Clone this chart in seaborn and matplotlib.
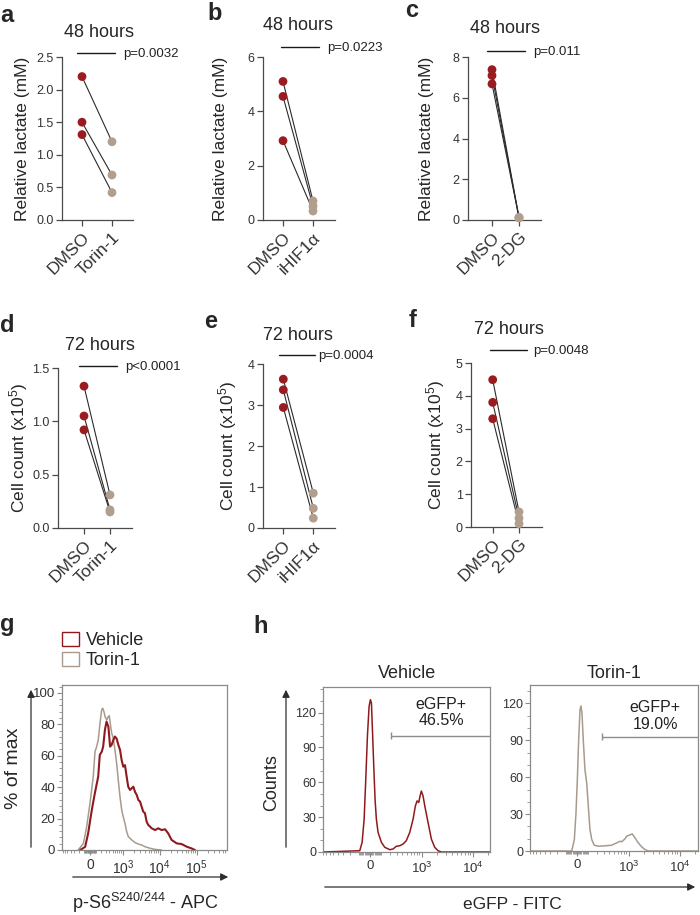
import numpy as np
import pandas as pd
import matplotlib
matplotlib.use("Agg")
import matplotlib.pyplot as plt
import seaborn as sns
from matplotlib.lines import Line2D
from matplotlib.patches import Patch, FancyArrowPatch
from matplotlib.ticker import FixedLocator, MultipleLocator, FormatStrFormatter

# ---- paired replicates, DMSO vs treatment ----
treatments = ["Torin-1", "iHIF1α", "2-DG"]

lactate_dmso_torin = [2.20, 1.50, 1.31]
lactate_torin = [1.20, 0.69, 0.42]
lactate_dmso_hif = [5.10, 4.55, 2.92]
lactate_hif = [0.70, 0.51, 0.33]
lactate_dmso_2dg = [7.38, 7.09, 6.68]
lactate_2dg = [0.12, 0.10, 0.13]

count_dmso_torin = [1.33, 1.05, 0.92]
count_torin = [0.31, 0.17, 0.15]
count_dmso_hif = [3.63, 3.37, 2.94]
count_hif = [0.85, 0.48, 0.24]
count_dmso_2dg = [4.49, 3.80, 3.30]
count_2dg = [0.46, 0.27, 0.10]

pvals_lactate = ["p=0.0032", "p=0.0223", "p=0.011"]
pvals_count = ["p<0.0001", "p=0.0004", "p=0.0048"]

# ---- flow histograms (fluorescence, % of max / counts) ----
g_vehicle_x = [-170, -80, -30, 30, 80, 140, 170, 210, 240, 280, 320, 370, 420, 470,
               530, 590, 660, 740, 830, 920, 1020, 1140, 1270, 1400, 1570, 1750, 1930,
               2150, 2400, 2650, 2950, 3250, 3600, 4000, 4450, 4900, 6100, 7500, 9200,
               11300, 14000, 17000, 21000, 29000, 39000, 54000, 73000, 90000]
g_vehicle_y = [0, 2, 10.6, 25.5, 36, 46.7, 60.5, 62.6, 65.8, 76.4, 81.7, 78.5, 65.8, 66.9,
               70, 72.2, 71, 67, 63.7, 57.3, 53, 54, 46.7, 40.3, 38.2, 39.3, 40.3,
               37, 35, 31.8, 30.8, 27.6, 24.4, 23.4, 18, 16, 13.8, 12.7, 13.8,
               12.7, 13.2, 10.6, 6.4, 4.2, 3.8, 2.1, 1, 0]
g_torin_x = [-210, -110, -54, 0, 54, 83, 112, 141, 174, 208, 230, 258, 282, 324, 368, 396,
             440, 472, 528, 592, 663, 739, 827, 925, 1020, 1140, 1270, 1410, 1750, 2150,
             2640, 3260, 4010, 5480, 7470, 11300]
g_torin_y = [0, 4.2, 14.9, 29.7, 46.7, 62.6, 65.8, 70, 80.7, 89.2, 90.2, 88, 84.9, 82.8, 84.9,
             85.4, 78.5, 74.3, 71.1, 63.7, 55.2, 44.6, 34, 25.5, 21.2, 17, 11.7, 8.5, 6.4,
             4.7, 3.8, 3.2, 2.1, 1.1, 0.4, 0]

h_vehicle_x = [-815, -96, -73, -54, -39, -24, -9, 3, 12, 21, 33, 45, 57, 73, 106, 142, 201,
               245, 294, 353, 417, 488, 576, 674, 750, 812, 876, 930, 988, 1068, 1154, 1340,
               1558, 1814, 2104, 2440, 21700]
h_vehicle_y = [0, 1.1, 8.3, 28.3, 62.6, 99.7, 125.4, 131.1, 128.3, 105.4, 74, 45.4, 28.3,
               16.9, 8.3, 4, 2, 2.6, 4.9, 5.4, 6.9, 9.7, 16.9, 28.3, 39.7, 44, 42.6, 48.2,
               52.5, 48.2, 39.7, 25.4, 11.1, 4, 1.1, 0, 0]
h_torin_x = [-812, -48, -24, -9, 3, 15, 27, 36, 45, 57, 73, 90, 106, 123, 142, 171, 222, 323,
             452, 576, 674, 729, 851, 918, 1068, 1186, 1340, 1558, 1814, 2104, 2440, 22800]
h_torin_y = [0, 0, 9.3, 31, 58, 90.4, 114.8, 118, 112, 90.4, 66, 55.3, 36.3, 17.4, 9.3, 4.7,
             3.9, 4.2, 4.7, 6.6, 7.9, 7.5, 9.9, 12, 13.1, 13.9, 10.7, 6.6, 3.4, 1.2, 0, 0]
gate_labels = ["eGFP+\n46.5%", "eGFP+\n19.0%"]

DMSO_RED = "#9b1c20"
TRT_TAN = "#b29e8d"
VEH_RED = "#8e1a1e"
TOR_GREY = "#a89a8c"
SPINE = "#4a4a4a"
FLOW_SPINE = "#8a8a8a"

sns.set_style("ticks")
plt.rcParams["font.family"] = ["Liberation Sans", "DejaVu Sans"]
plt.rcParams["mathtext.fontset"] = "custom"
plt.rcParams["mathtext.rm"] = "Liberation Sans"
plt.rcParams["mathtext.it"] = "Liberation Sans:italic"
plt.rcParams["mathtext.bf"] = "Liberation Sans:bold"

W, H = 700, 915
fig = plt.figure(figsize=(7, 9.15), dpi=100)
fig.patch.set_facecolor("white")


def box(x0, y0, x1, y1):
    return [x0 / W, 1 - y1 / H, (x1 - x0) / W, (y1 - y0) / H]


def ftext(x, y, s, **kw):
    fig.text(x / W, 1 - y / H, s, **kw)


def fline(x0, x1, y, **kw):
    fig.add_artist(Line2D([x0 / W, x1 / W], [1 - y / H, 1 - y / H],
                          transform=fig.transFigure, **kw))


def farrow(p0, p1):
    fig.add_artist(FancyArrowPatch((p0[0] / W, 1 - p0[1] / H), (p1[0] / W, 1 - p1[1] / H),
                                   transform=fig.transFigure, arrowstyle="-|>",
                                   mutation_scale=11, color="#2e2e2e", lw=0.9))


def paired_panel(rect, dmso_px, trt_px, dmso, trt, trt_name, ymax, ystep, fmt):
    x0, y0, x1, y1 = rect
    ax = fig.add_axes(box(x0, y0, x1, y1))
    groups = ["DMSO", trt_name]
    df = pd.DataFrame({
        "group": ["DMSO"] * len(dmso) + [trt_name] * len(trt),
        "value": list(dmso) + list(trt),
        "pair": list(range(len(dmso))) * 2,
    })
    df["pos"] = df["group"].map({g: i for i, g in enumerate(groups)})
    sns.lineplot(data=df, x="pos", y="value", units="pair", estimator=None,
                 color="#2b2b2b", lw=0.8, ax=ax, legend=False)
    sns.scatterplot(data=df, x="pos", y="value", hue="group", hue_order=groups,
                    palette=[DMSO_RED, TRT_TAN], s=40, linewidth=0, ax=ax,
                    legend=False, zorder=3, clip_on=False)
    step = trt_px - dmso_px
    ax.set_xlim((x0 - dmso_px) / step, (x1 - dmso_px) / step)
    ax.set_ylim(0, ymax)
    ax.set_yticks(np.arange(0, ymax + 1e-9, ystep))
    ax.yaxis.set_major_formatter(FormatStrFormatter(fmt))
    ax.set_xticks([0, 1])
    ax.set_xticklabels(groups, rotation=45, ha="right", rotation_mode="anchor",
                       fontsize=12.5)
    ax.set_xlabel("")
    ax.set_ylabel("")
    sns.despine(ax=ax)
    for s in ["left", "bottom"]:
        ax.spines[s].set_color(SPINE)
        ax.spines[s].set_linewidth(0.9)
    ax.tick_params(length=4.5, width=0.9, color=SPINE, labelcolor="#333333")
    ax.tick_params(axis="y", labelsize=9, pad=1.5)
    ax.tick_params(axis="x", pad=2.5)
    return ax


# ---- rows a-c (lactate) and d-f (cell count) ----
paired_panel((62, 57, 133, 220), 82, 112, lactate_dmso_torin, lactate_torin, treatments[0], 2.5, 0.5, "%.1f")
paired_panel((263, 57, 335, 220), 283, 313, lactate_dmso_hif, lactate_hif, treatments[1], 6, 2, "%d")
paired_panel((468, 57, 541, 220), 492, 519, lactate_dmso_2dg, lactate_2dg, treatments[2], 8, 2, "%d")
paired_panel((58, 368, 132, 528), 84, 110, count_dmso_torin, count_torin, treatments[0], 1.5, 0.5, "%.1f")
paired_panel((263, 364, 335, 528), 283.3, 313.3, count_dmso_hif, count_hif, treatments[1], 4, 1, "%d")
paired_panel((471, 363, 542, 527), 492.7, 519, count_dmso_2dg, count_2dg, treatments[2], 5, 1, "%d")

for x, y in [(23, 139), (221, 139), (427, 139)]:
    ftext(x, y, "Relative lactate (mM)", rotation=90, ha="center", va="center", fontsize=12.5)
for x, y in [(19, 448), (228, 446), (436, 445)]:
    ftext(x, y, "Cell count (x10$^{5}$)", rotation=90, ha="center", va="center", fontsize=12.5)

for x, y in [(99, 36.7), (298, 30), (505, 33.3)]:
    ftext(x, y, "48 hours", ha="center", va="baseline", fontsize=13)
for x, y in [(100, 350), (298, 340), (509, 334)]:
    ftext(x, y, "72 hours", ha="center", va="baseline", fontsize=13)

p_lines = [(77, 115, 53.3, 122.7), (281, 319, 46.7, 326.7), (487, 525, 50.7, 533),
           (79, 117, 365.7, 125), (279, 315, 355, 318.3), (490, 527, 350, 532.7)]
for (xa, xb, y, xt), p in zip(p_lines, pvals_lactate + pvals_count):
    fline(xa, xb, y, color="#1a1a1a", lw=1.0)
    ftext(xt, y + 4, p, ha="left", va="baseline", fontsize=9.5, color="#222222")


# ---- flow cytometry panels ----
def flow_axes(rect, c, xlim, ymax, yticks, yminor, xticks, xlabels, xfs, yfs):
    ax = fig.add_axes(box(*rect))
    ax.set_xscale("function", functions=(lambda v: np.arcsinh(np.asarray(v) / c),
                                         lambda u: c * np.sinh(np.asarray(u))))
    ax.set_xlim(*xlim)
    ax.set_ylim(0, ymax)
    ax.set_xticks(xticks)
    ax.set_xticklabels(xlabels, fontsize=xfs)
    minor = [s * m * 10 ** k for s in (-1, 1) for k in range(1, 6) for m in range(1, 10)]
    ax.xaxis.set_minor_locator(FixedLocator(minor))
    ax.set_yticks(yticks)
    ax.yaxis.set_minor_locator(MultipleLocator(yminor))
    ax.tick_params(axis="y", labelsize=yfs, pad=1.5)
    ax.tick_params(axis="x", pad=2.5)
    ax.tick_params(which="major", length=3.5, width=0.8, color=FLOW_SPINE, labelcolor="#333333")
    ax.tick_params(which="minor", length=2, width=0.6, color=FLOW_SPINE)
    for s in ax.spines.values():
        s.set_color(FLOW_SPINE)
        s.set_linewidth(0.9)
    return ax


ax_g = flow_axes((62, 685, 227, 850), 262, (-724, 6.6e5), 105, [0, 20, 40, 60, 80, 100], 4,
                 [0, 1e3, 1e4, 1e5], ["0", "$10^3$", "$10^4$", "$10^5$"], 10, 9.5)
sns.lineplot(x=g_torin_x, y=g_torin_y, color=TOR_GREY, lw=1.1, ax=ax_g, sort=False)
sns.lineplot(x=g_vehicle_x, y=g_vehicle_y, color=VEH_RED, lw=1.5, ax=ax_g, sort=False)
ax_g.set_xlim(-724, 6.6e5)

ax_hv = flow_axes((323, 687, 490, 852), 200, (-815, 21700), 142, [0, 30, 60, 90, 120], 10,
                  [0, 1e3, 1e4], ["0", "$10^3$", "$10^4$"], 9.5, 9)
sns.lineplot(x=h_vehicle_x, y=h_vehicle_y, color=VEH_RED, lw=1.1, ax=ax_hv, sort=False)
ax_hv.set_xlim(-815, 21700)

ax_ht = flow_axes((530, 685, 698, 851), 200, (-812, 22800), 135, [0, 30, 60, 90, 120], 10,
                  [0, 1e3, 1e4], ["0", "$10^3$", "$10^4$"], 9.5, 9)
sns.lineplot(x=h_torin_x, y=h_torin_y, color=TOR_GREY, lw=1.1, ax=ax_ht, sort=False)
ax_ht.set_xlim(-812, 22800)

for ax in (ax_g, ax_hv, ax_ht):
    ax.set_xlabel("")
    ax.set_ylabel("")

# gates
for ax, gx, gy, lab, tx, ty in [(ax_hv, 214, 100, gate_labels[0], 0.707, 0.845),
                                (ax_ht, 270, 93, gate_labels[1], 0.745, 0.815)]:
    ax.hlines(gy, gx, ax.get_xlim()[1], color="#8c8c8c", lw=1.0)
    ax.vlines(gx, gy - 3, gy + 3, color="#8c8c8c", lw=1.0)
    ax.text(tx, ty, lab, transform=ax.transAxes, ha="center", va="center",
            fontsize=11.5, linespacing=1.15, color="#222222")

# legend for g
fig.legend(handles=[Patch(facecolor="white", edgecolor=VEH_RED, lw=1.0, label="Vehicle"),
                    Patch(facecolor="white", edgecolor=TOR_GREY, lw=1.0, label="Torin-1")],
           loc="upper left", bbox_to_anchor=(62 / W, 1 - 632 / H), frameon=False,
           fontsize=13, handlelength=0.95, handleheight=0.85, handletextpad=0.35,
           labelspacing=0.12, borderaxespad=0, borderpad=0)

farrow((31, 850), (31, 687))
farrow((70, 877), (231, 877))
farrow((286, 850), (286, 687))
farrow((322, 887), (698, 887))

ftext(14, 768, "% of max", rotation=90, ha="center", va="center", fontsize=14)
ftext(145, 909, "p-S6$^{\\mathregular{S240/244}}$ - APC", ha="center", va="baseline", fontsize=13)
ftext(272, 783, "Counts", rotation=90, ha="center", va="center", fontsize=13)
ftext(407, 678, "Vehicle", ha="center", va="baseline", fontsize=13)
ftext(614, 678, "Torin-1", ha="center", va="baseline", fontsize=13)
ftext(512, 909, "eGFP - FITC", ha="center", va="baseline", fontsize=12.5)

# panel letters
for lab, x, y in [("a", 7, 22), ("b", 215, 20), ("c", 412, 17), ("d", 7, 332), ("e", 211, 328),
                  ("f", 413, 327), ("g", 7, 631), ("h", 261, 633)]:
    ftext(x, y, lab, ha="center", va="baseline", fontsize=17, fontweight="bold")

fig.savefig("out.png", dpi=100)
